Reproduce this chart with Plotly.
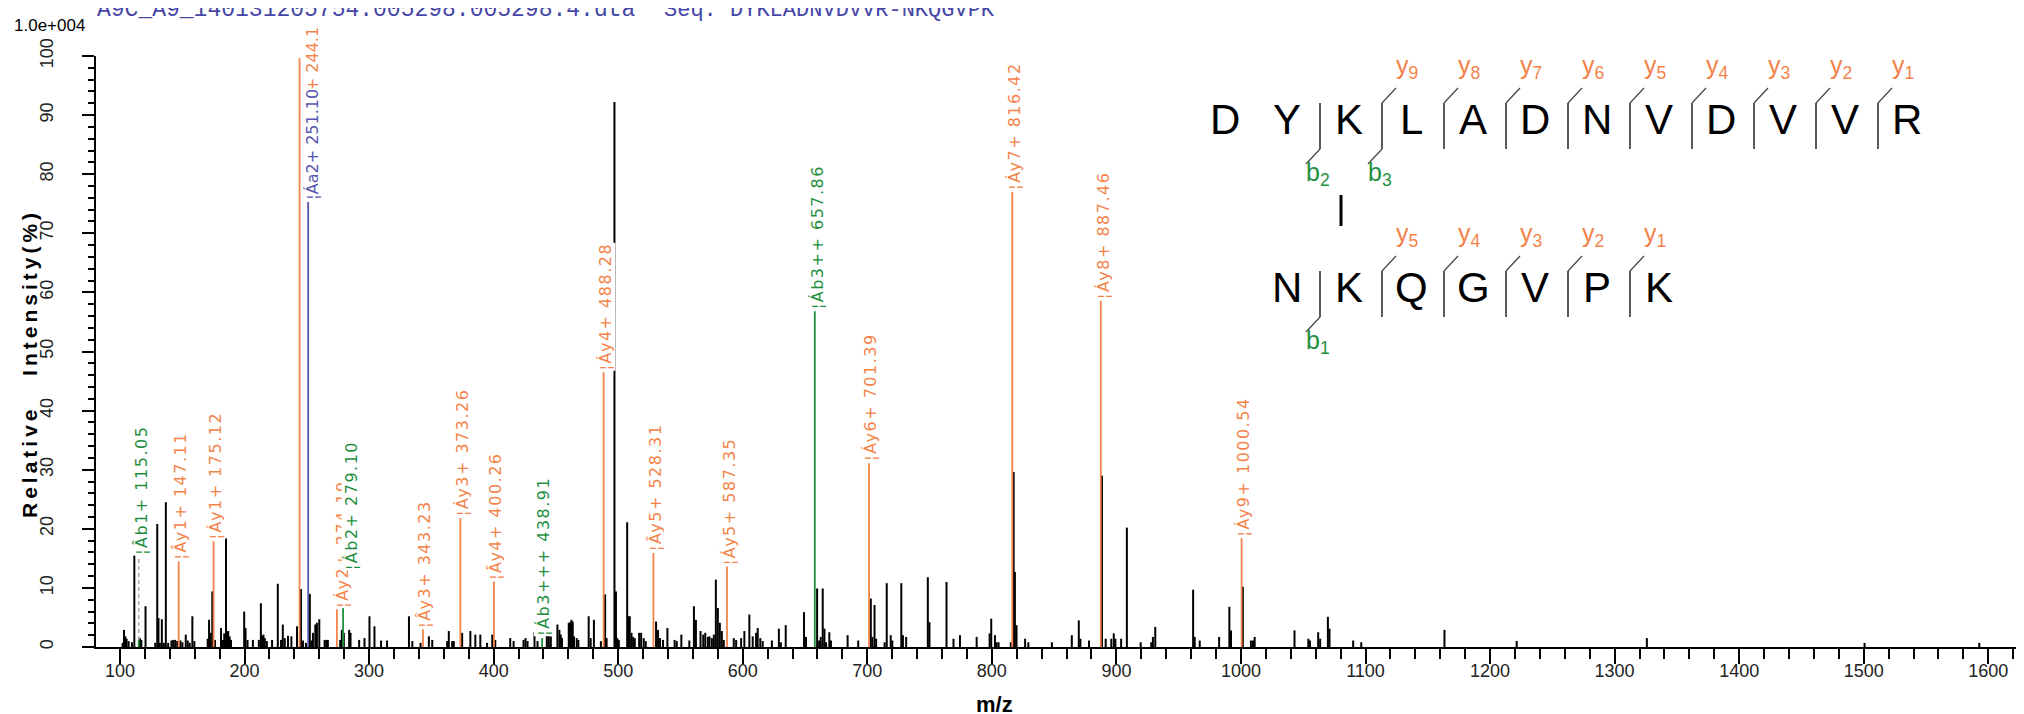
import plotly.graph_objects as go

# ---- spectrum data (m/z, relative intensity %) ----
peak_mz = [102.1, 103.2, 104.3, 105.3, 106.9, 109.6, 111.5, 116.0, 117.1, 120.5,
           128.3, 129.9, 130.9, 132.0, 133.6, 135.2, 136.8, 138.7, 141.3, 142.7,
           144.3, 145.9, 148.5, 150.1, 152.8, 154.4, 156.0, 158.1, 159.7, 170.4,
           171.5, 172.8, 174.1, 176.3, 181.1, 182.7, 183.7, 185.1, 185.9, 186.9,
           188.0, 189.1, 199.7, 200.8, 202.4, 206.7, 211.5, 213.1, 214.1, 215.2,
           216.3, 217.9, 222.1, 226.7, 229.3, 230.7, 232.3, 234.9, 237.6, 242.1,
           245.3, 246.9, 249.3, 252.4, 253.6, 254.9, 256.8, 258.1, 260.0, 264.3,
           265.6, 266.9, 276.8, 278.1, 279.7, 284.0, 285.1, 292.0, 296.3, 300.3,
           304.3, 309.6, 314.4, 332.0, 334.7, 341.3, 348.0, 350.7, 362.7, 364.0,
           366.7, 368.0, 374.7, 381.3, 385.3, 389.3, 394.7, 398.9, 401.3, 413.3,
           416.0, 424.0, 425.6, 427.2, 432.8, 435.2, 442.7, 444.3, 445.9, 451.2,
           452.8, 453.9, 454.9, 460.3, 461.3, 462.4, 463.5, 464.5, 466.7, 468.0,
           476.3, 477.9, 480.5, 486.1, 489.5, 490.7, 497.0, 498.2, 499.3, 500.5,
           507.2, 508.3, 509.3, 510.7, 512.0, 513.3, 516.8, 518.4, 520.5, 522.1,
           530.4, 532.0, 533.6, 536.0, 539.5, 545.3, 547.0, 550.7, 557.1, 560.8,
           562.4, 566.1, 568.3, 569.9, 572.0, 573.3, 575.2, 576.8, 578.4, 580.0,
           581.6, 583.2, 584.8, 592.8, 594.7, 598.7, 601.3, 605.3, 608.0, 610.7,
           612.0, 614.1, 616.0, 623.4, 629.0, 630.6, 634.5, 649.2, 650.8, 659.7,
           661.3, 662.6, 664.2, 665.6, 666.9, 669.5, 670.8, 684.2, 692.7, 702.8,
           704.1, 705.8, 707.1, 713.9, 715.6, 718.8, 720.1, 727.3, 728.6, 731.2,
           748.6, 749.9, 763.6, 769.2, 774.4, 787.8, 798.2, 799.5, 802.5, 803.8,
           805.4, 815.2, 817.5, 818.5, 819.8, 826.7, 829.3, 848.2, 864.2, 869.8,
           871.1, 878.0, 888.4, 891.4, 895.9, 897.9, 899.2, 903.8, 908.4, 919.5,
           928.0, 929.3, 931.2, 961.6, 962.9, 966.9, 982.5, 990.7, 992.0, 1001.5,
           1008.0, 1009.7, 1011.0, 1043.0, 1054.1, 1055.4, 1062.0, 1063.6, 1069.8, 1071.1,
           1090.1, 1096.6, 1163.4, 1221.4, 1325.9, 1500.7, 1592.8]
peak_int = [0.7, 2.9, 1.8, 1.4, 1.0, 0.8, 15.5, 1.5, 1.2, 6.9,
            0.7, 20.8, 4.9, 0.7, 4.7, 0.7, 24.5, 0.7, 1.1, 1.2,
            1.2, 1.0, 1.1, 0.8, 2.1, 1.1, 0.7, 5.2, 1.0, 1.4,
            4.6, 2.4, 9.4, 1.2, 3.2, 1.2, 2.3, 18.4, 2.7, 2.7,
            1.8, 1.2, 6.0, 3.2, 1.2, 1.2, 1.2, 7.4, 1.9, 2.1,
            1.5, 1.0, 1.2, 10.7, 1.2, 3.8, 1.5, 1.9, 1.8, 3.5,
            9.8, 1.1, 0.7, 9.0, 1.1, 2.4, 3.8, 4.1, 4.7, 1.2,
            1.2, 1.2, 1.2, 2.9, 2.4, 2.9, 2.4, 1.2, 1.5, 5.2,
            3.5, 1.1, 1.1, 5.2, 1.0, 0.7, 1.8, 1.2, 1.0, 2.7,
            1.0, 1.0, 2.4, 2.7, 2.1, 2.1, 0.7, 2.1, 1.2, 1.5,
            1.0, 1.2, 1.5, 1.0, 2.5, 1.0, 2.4, 2.4, 1.8, 3.8,
            2.9, 2.1, 1.5, 4.1, 4.2, 4.6, 4.3, 1.8, 1.5, 1.2,
            5.2, 1.5, 4.6, 1.0, 8.9, 1.5, 92.2, 9.4, 1.5, 1.2,
            21.1, 5.2, 5.2, 2.4, 1.7, 1.5, 2.4, 2.4, 1.5, 1.0,
            4.3, 2.9, 1.5, 1.2, 3.2, 1.2, 1.0, 2.1, 1.1, 6.9,
            4.6, 2.7, 2.1, 2.4, 1.7, 1.8, 1.5, 2.1, 11.4, 6.6,
            4.1, 2.7, 1.2, 1.5, 1.2, 1.5, 2.7, 5.5, 1.8, 2.4,
            3.2, 1.5, 1.0, 1.1, 3.1, 0.8, 3.7, 5.9, 1.7, 9.9,
            1.1, 1.7, 9.9, 3.1, 0.8, 2.5, 1.1, 2.0, 1.1, 8.2,
            1.7, 7.1, 1.4, 0.8, 10.8, 2.0, 1.1, 10.8, 2.0, 1.7,
            11.8, 4.2, 11.0, 1.4, 2.0, 1.7, 2.3, 4.8, 2.0, 0.8,
            0.8, 0.8, 29.6, 12.7, 3.7, 1.4, 0.8, 0.8, 2.0, 4.5,
            1.4, 1.1, 29.0, 1.4, 1.4, 2.3, 1.4, 1.4, 20.2, 0.8,
            0.8, 1.7, 3.4, 9.7, 1.7, 1.1, 1.7, 6.8, 2.8, 10.2,
            1.1, 1.1, 1.7, 2.8, 1.4, 1.1, 2.5, 1.4, 5.1, 3.1,
            1.1, 0.8, 2.9, 1.0, 1.5, 0.7, 0.7]

# matched fragment ions (alpha = DYKLADNVDVVR, beta = NKQGVPK)
ion_mz = [115.05, 147.11, 175.12, 244.17, 251.10, 274.19, 279.10, 343.23, 373.26, 400.26,
          438.91, 488.28, 528.31, 587.35, 657.86, 701.39, 816.42, 887.46, 1000.54]
ion_int = [1.2, 14.5, 17.9, 99.6, 75.3, 6.4, 12.6, 3.0, 21.8, 11.1,
           1.5, 46.5, 15.9, 13.6, 56.8, 31.1, 77.0, 58.6, 18.4]
ion_type = ["b", "y", "y", "y", "a", "y", "b", "y", "y", "y",
            "b", "y", "y", "y", "b", "y", "y", "y", "y"]
ion_text = ["¦Âb1+ 115.05", "¦Ây1+ 147.11", "¦Áy1+ 175.12", "¦Ây2+ 244.1", "¦Áa2+ 251.10",
            "¦Áy2+ 274.19", "¦Áb2+ 279.10", "¦Ây3+ 343.23", "¦Áy3+ 373.26", "¦Ây4+ 400.26",
            "¦Áb3+++ 438.91", "¦Áy4+ 488.28", "¦Ây5+ 528.31", "¦Áy5+ 587.35", "¦Áb3++ 657.86",
            "¦Áy6+ 701.39", "¦Áy7+ 816.42", "¦Áy8+ 887.46", "¦Áy9+ 1000.54"]

alpha_seq = "DYKLADNVDVVR"
beta_seq = "NKQGVPK"
alpha_b = [2, 3]
beta_b = [1]

x_ticks = list(range(100, 1700, 100))
y_ticks = list(range(0, 110, 10))

COLORS = {"y": "#f4834a", "b": "#1f8f3f", "a": "#5656b0"}

W, H = 2024, 714
L, R, T, B = 88, 0, 48, 75
PW, PH = W - L - R, H - T - B


def px(X):
    return (X - L) / PW


def py(Y):
    return (H - B - Y) / PH


def sticks(xs, ys):
    sx, sy = [], []
    for a, b in zip(xs, ys):
        sx += [a, a, None]
        sy += [0, b, None]
    return sx, sy


def note(X, Y, text, size, color="black", family="Arial", xa="center", ya="middle", **kw):
    fig.add_annotation(xref="paper", yref="paper", x=px(X), y=py(Y), text=text, showarrow=False,
                       xanchor=xa, yanchor=ya, font=dict(family=family, size=size, color=color), **kw)


fig = go.Figure()

bx, by = sticks(peak_mz, peak_int)
fig.add_trace(go.Scatter(x=bx, y=by, mode="lines", line=dict(color="black", width=2),
                         hoverinfo="skip", showlegend=False))

for t in ["y", "b", "a"]:
    xs = [m for m, k in zip(ion_mz, ion_type) if k == t]
    ys = [v for v, k in zip(ion_int, ion_type) if k == t]
    cx, cy = sticks(xs, ys)
    fig.add_trace(go.Scatter(x=cx, y=cy, mode="lines", line=dict(color=COLORS[t], width=1.8),
                             hoverinfo="skip", showlegend=False))

# b1 label sits higher than its tiny peak -> dashed leader
fig.add_trace(go.Scatter(x=[ion_mz[0], ion_mz[0]], y=[ion_int[0], 15.3], mode="lines",
                         line=dict(color="#aaaaaa", width=1.5, dash="4px,3px"),
                         hoverinfo="skip", showlegend=False))

# peak labels (drawn in order, later ones cover earlier ones)
label_base = {0: 15.3}
label_shift = {3: 13, 4: 4, 5: 6, 6: 8}
label_spacing = {3: 0, 4: 0}
for i, (m, v, k, txt) in enumerate(zip(ion_mz, ion_int, ion_type, ion_text)):
    sp = label_spacing.get(i, 1.5)
    lab = dict(x=m, text='<span style="letter-spacing:%spx">%s</span>' % (sp, txt), textangle=-90,
               showarrow=False, xanchor="center",
               xshift=label_shift.get(i, 2), bgcolor="white", borderpad=0,
               font=dict(family="DejaVu Sans", size=16, color=COLORS[k]))
    if i == 3:
        # base peak: its label runs off the top of the canvas
        fig.add_annotation(yref="paper", y=py(18), yanchor="top", **lab)
    else:
        fig.add_annotation(y=label_base.get(i, v), yanchor="bottom", yshift=1, **lab)

# header texts
note(4, 17, "1.0e+004", 17, xa="left")
note(88, 16, "A9C_A9_140131205754.005298.005298.4.dta", 23, "#4646a6", "Liberation Mono",
     xa="left", ya="bottom", borderpad=0)
note(655, 16, "Seq: DYKLADNVDVVR-NKQGVPK", 22, "#4646a6", "Liberation Mono",
     xa="left", ya="bottom", borderpad=0)

# axis titles
note(22, 356, '<span style="letter-spacing:4px"><b>Relative   Intensity(%)</b></span>', 21, textangle=-90)
note(986, 696, "<b>m/z</b>", 22)

# ---- cross-linked sequence diagram ----
shapes = []
STEP = 62
X0 = 1217


def seg(x0, y0, x1, y1, color, width):
    shapes.append(dict(type="line", xref="paper", yref="paper", x0=px(x0), x1=px(x1),
                       y0=py(y0), y1=py(y1), line=dict(color=color, width=width)))


def seq_row(seq, col0, cy, b_list, first_y):
    n = len(seq)
    for i, ch in enumerate(seq):
        note(X0 + (col0 + i) * STEP, cy - 7, ch, 42)
    for i in range(n - 1):
        has_b = (i + 1) in b_list
        has_y = (i + 1) >= first_y
        if not (has_b or has_y):
            continue
        sx = X0 + (col0 + i) * STEP + 33
        top, bot = cy - 23, cy + 23
        seg(sx, top, sx, bot, "#222", 1.5)
        if has_y:
            seg(sx, top, sx + 14, top - 15, "#444", 1.2)
            note(sx + 12, top - 36, "y<sub>%d</sub>" % (n - i - 1), 25, COLORS["y"], xa="left")
        if has_b:
            seg(sx, bot, sx - 14, bot + 15, "#444", 1.2)
            note(sx - 16, bot + 25, "b<sub>%d</sub>" % (i + 1), 25, COLORS["b"], xa="left")


seq_row(alpha_seq, 0, 118, alpha_b, 3)
seq_row(beta_seq, 1, 286, beta_b, 2)
# cross-link between the two K residues
seg(X0 + 2 * STEP - 8, 187, X0 + 2 * STEP - 8, 218, "black", 3)

fig.update_layout(
    width=W, height=H,
    margin=dict(l=L, r=R, t=T, b=B, pad=0),
    paper_bgcolor="white", plot_bgcolor="white",
    shapes=shapes,
    xaxis=dict(range=[100 + (L - 112) / 1.2455, 100 + (W - 112) / 1.2455],
               tickvals=x_ticks, ticks="outside", ticklen=15, tickwidth=1.5, tickcolor="black",
               ticklabelstandoff=-9,
               showline=True, linecolor="black", linewidth=2, showgrid=False, zeroline=False,
               minor=dict(dtick=20, tick0=0, ticks="outside", ticklen=10, tickwidth=1.5, tickcolor="black"),
               tickfont=dict(family="Arial", size=18, color="#222")),
    yaxis=dict(range=[0, 100], tickvals=y_ticks, ticks="outside", ticklen=12, tickwidth=1.5,
               tickcolor="black", tickangle=-90, ticklabelstandoff=22,
               showline=True, linecolor="black", linewidth=2, showgrid=False, zeroline=False,
               minor=dict(dtick=2, tick0=0, ticks="outside", ticklen=6, tickwidth=1.5, tickcolor="black"),
               tickfont=dict(family="Arial", size=18, color="#222")),
)

fig.write_html("out.html")
